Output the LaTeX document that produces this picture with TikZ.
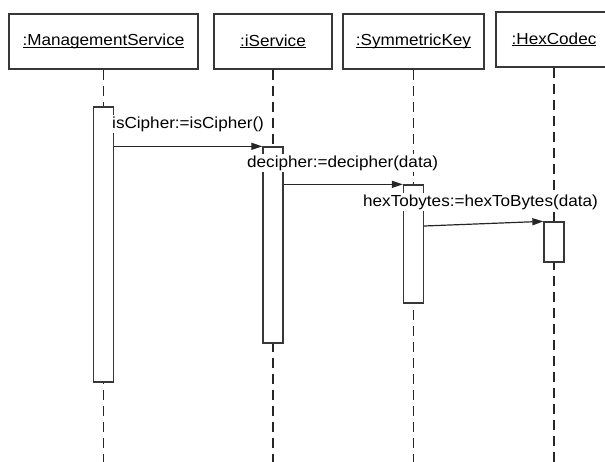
\documentclass[tikz,border=0pt]{standalone}
\usepackage{fontspec}
\setmainfont{Liberation Sans}[FakeStretch=1.07]
\usetikzlibrary{arrows.meta}
\definecolor{umlline}{RGB}{55,55,55}
\newcommand{\objname}[1]{\setbox0\hbox{#1}\rlap{\rule[-2pt]{\wd0}{0.9pt}}\box0}

\begin{document}
\begin{tikzpicture}[x=1pt,y=-1pt,font=\fontsize{16}{19}\selectfont,
    obj/.style={draw=umlline,line width=1.4pt,fill=white,inner sep=0pt,minimum height=55pt},
    act/.style={draw=umlline,line width=1.3pt,fill=white,inner sep=0pt,minimum width=20pt},
    lifeline/.style={draw=black!85,line width=1.3pt,dash pattern=on 10pt off 6pt},
    msg/.style={draw=black!85,line width=1.2pt,-{Triangle[length=11pt,width=7pt]}},
    msglabel/.style={fill=white,inner xsep=0pt,inner ysep=1.5pt,anchor=west}]
    \useasboundingbox (0,0) rectangle (605,461);
    \clip (0,0) rectangle (605,461);

    % Objects
    \node[obj,minimum width=189pt] (ms) at (103.5,41.5) {\objname{:ManagementService}};
    \node[obj,minimum width=118pt] (is) at (273,41.5) {\objname{:iService}};
    \node[obj,minimum width=141pt] (sk) at (413.5,41.5) {\objname{:SymmetricKey}};
    \node[obj,minimum width=116pt] (hc) at (554,39.5) {\objname{:HexCodec}};

    % Lifelines
    \coordinate (bottom) at (0,470);
    \draw[lifeline] (ms.south) -- (ms.south |- bottom);
    \draw[lifeline] (is.south) -- (is.south |- bottom);
    \draw[lifeline] (sk.south) -- (sk.south |- bottom);
    \draw[lifeline] (hc.south) -- (hc.south |- bottom);

    % Activations
    \node[act,minimum height=275pt] (a1) at (103.5,244.5) {};
    \node[act,minimum height=196pt] (a2) at (273,245) {};
    \node[act,minimum height=118pt] (a3) at (413.5,244) {};
    \node[act,minimum height=40pt] (a4) at (554,242) {};

    % Messages
    \coordinate (m3) at (423.5,226);
    \draw[msg] (a1.east |- a2.north west) -- (a2.north west);
    \draw[msg] (a2.east |- a3.north west) -- (a3.north west);
    \draw[msg] (a3.east |- m3) -- (a4.north west);

    % Labels
    \node[msglabel] (l1) at (112,124) {isCipher:=isCipher()};
    \node[msglabel] (l2) at (247,163) {decipher:=decipher(data)};
    \node[msglabel] (l3) at (363,202) {hexTobytes:=hexToBytes(data)};
\end{tikzpicture}
\end{document}
